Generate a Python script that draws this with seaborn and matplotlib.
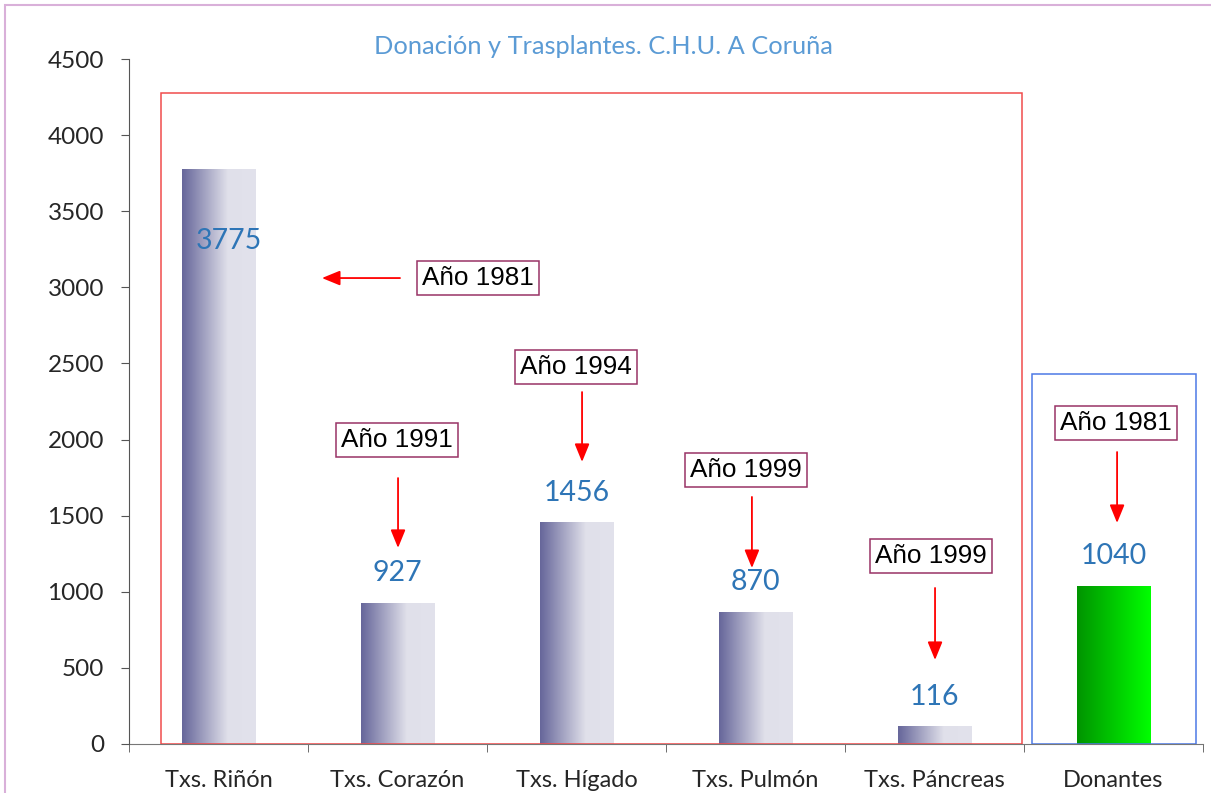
import matplotlib
matplotlib.use("Agg")
import matplotlib.pyplot as plt
import seaborn as sns
import numpy as np
import pandas as pd
from matplotlib.patches import Rectangle
from matplotlib.colors import LinearSegmentedColormap

# datos
categorias = ['Txs. Riñón', 'Txs. Corazón', 'Txs. Hígado', 'Txs. Pulmón', 'Txs. Páncreas', 'Donantes']
valores = [3775, 927, 1456, 870, 116, 1040]
anios = ['Año 1981', 'Año 1991', 'Año 1994', 'Año 1999', 'Año 1999', 'Año 1981']
titulo = 'Donación y Trasplantes. C.H.U. A Coruña'

df = pd.DataFrame({'categoria': categorias, 'valor': valores})

sns.set_style("white")
plt.rcParams['font.family'] = ['Lato', 'DejaVu Sans']

fig = plt.figure(figsize=(12.11, 7.93), dpi=100)
ax = fig.add_axes([129 / 1211, 1 - 744 / 793, (1203 - 129) / 1211, (744 - 59) / 793])

sns.barplot(data=df, x='categoria', y='valor', ax=ax, width=0.41, color='white')

# degradados de las barras
cmap_gris = LinearSegmentedColormap.from_list('gris', [(0, '#66669a'), (0.62, '#e0e0ea'), (1, '#e2e2ec')])
cmap_verde = LinearSegmentedColormap.from_list('verde', ['#009400', '#00ff00'])
grad = np.linspace(0, 1, 256).reshape(1, -1)
for i, p in enumerate(ax.patches):
    p.set_edgecolor('none')
    x0, w, h = p.get_x(), p.get_width(), p.get_height()
    cmap = cmap_verde if categorias[i] == 'Donantes' else cmap_gris
    im = ax.imshow(grad, cmap=cmap, extent=[x0, x0 + w, 0, h], aspect='auto', zorder=2)
    im.set_clip_path(p)
ax.set_xlim(-0.5, 5.5)
ax.set_ylim(0, 4500)

# etiquetas de valores
for i, v in enumerate(valores):
    if v > 3000:
        ax.text(i + 0.06, v - 470, f'{v}', ha='center', va='center', fontsize=20.5, color='#2e75b6', zorder=4)
    else:
        ax.text(i, v + 195, f'{v}', ha='center', va='center', fontsize=20.5, color='#2e75b6', zorder=4)

# marcos de grupos
ax.add_patch(Rectangle((-0.32, 0), 4.81, 4277, fill=False, edgecolor='#f04c4c', lw=1.1, zorder=3))
ax.add_patch(Rectangle((4.545, 0), 0.915, 2431, fill=False, edgecolor='#4d79e6', lw=1.1, zorder=3))

# anotaciones (posición de la caja, inicio y fin de la flecha)
anot = [
    ((1.45, 3061), (1.014, 3061), (0.578, 3061)),
    ((0.997, 1997), (1.003, 1747), (1.003, 1288)),
    ((1.997, 2477), (2.031, 2312), (2.031, 1853)),
    ((2.947, 1800), (2.98, 1623), (2.98, 1156)),
    ((3.98, 1235), (4.003, 1025), (4.003, 552)),
    ((5.014, 2109), (5.02, 1918), (5.02, 1452)),
]
for txt, (caja, ini, fin) in zip(anios, anot):
    ax.text(caja[0], caja[1], txt, ha='center', va='center', fontsize=18.8,
            family=['Liberation Sans', 'DejaVu Sans'], color='black', zorder=5,
            bbox=dict(boxstyle='square,pad=0.2', facecolor='white', edgecolor='#993366', lw=1.1))
    ax.annotate('', xy=fin, xytext=ini, zorder=5,
                arrowprops=dict(arrowstyle='-|>,head_length=1.1,head_width=0.45', color='#ff0000', lw=1.3,
                                shrinkA=0, shrinkB=0))

fig.text(603 / 1211, 1 - 47 / 793, titulo, fontsize=18.3, color='#5b9bd5', ha='center', va='center')
ax.set_xlabel('')
ax.set_ylabel('')
ax.set_yticks(np.arange(0, 4501, 500))

for s in ['top', 'right']:
    ax.spines[s].set_visible(False)
ax.spines['left'].set_color('#555555')
ax.spines['bottom'].set_color('#777777')
ax.spines['left'].set_zorder(6)

ax.tick_params(axis='y', left=True, length=6, color='#555555', labelsize=17.5, pad=12)
ax.set_xticks(np.arange(-0.5, 5.6, 1), minor=True)
ax.tick_params(axis='x', which='major', length=0, labelsize=17, pad=19)
ax.tick_params(axis='x', which='minor', bottom=True, length=6, color='#555555')

# marco exterior del gráfico
fig.add_artist(Rectangle((5 / 1211, -0.1), 1.2, 1 - 5 / 793 + 0.1, transform=fig.transFigure,
                         fill=False, edgecolor='#d9b0d9', lw=1.5))

fig.savefig('out.png', dpi=100)
